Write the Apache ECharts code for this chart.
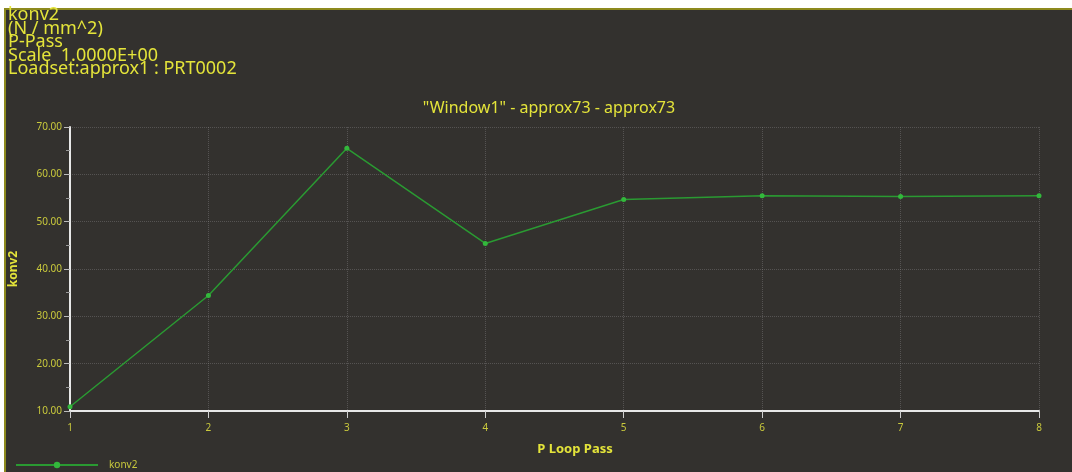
<!DOCTYPE html>
<html>
<head>
<meta charset="utf-8">
<script src="https://cdn.jsdelivr.net/npm/echarts@6/dist/echarts.min.js"></script>
<style>
  html, body { margin: 0; padding: 0; background: #ffffff; }
  #chart { width: 1072px; height: 472px; }
</style>
</head>
<body>
<div id="chart"></div>
<script>
// Loop passes and the konv2 result at each pass
const passes = [1, 2, 3, 4, 5, 6, 7, 8];
const konv2 = [10.9, 34.4, 65.5, 45.4, 54.7, 55.5, 55.3, 55.5];
const yTicks = [10, 20, 30, 40, 50, 60, 70];
const headerLines = [
  'konv2',
  '(N / mm^2)',
  'P-Pass',
  'Scale  1.0000E+00',
  'Loadset:approx1 : PRT0002'
];

const yellow = '#e4e43a';
const tickYellow = '#c9c93c';
const gridGray = 'rgba(150,150,150,0.35)';

const chart = echarts.init(document.getElementById('chart'));

const headerGraphics = headerLines.map((t, i) => ({
  type: 'text',
  left: 8,
  top: 6 + i * 13.5,
  style: { text: t, fill: yellow, font: '18px "Noto Sans", sans-serif' },
  z: 10
}));

chart.setOption({
  backgroundColor: '#ffffff',
  animation: false,
  title: {
    text: '"Window1" - approx73 - approx73',
    left: 544,
    textAlign: 'center',
    top: 95,
    textStyle: { color: yellow, fontSize: 16, fontWeight: 'normal', fontFamily: 'Noto Sans' }
  },
  legend: {
    left: 10,
    top: 455,
    itemWidth: 82,
    itemHeight: 8,
    itemGap: 10,
    textStyle: { color: tickYellow, fontSize: 10, fontFamily: 'Noto Sans', padding: [0, 0, 0, 6] },
    data: ['konv2']
  },
  graphic: [
    {
      type: 'rect',
      shape: { x: 5, y: 9, width: 1080, height: 480 },
      style: { fill: '#33312e', stroke: '#8d8a1e', lineWidth: 2 },
      z: -10
    },
    ...headerGraphics
  ],
  grid: { left: 70, right: 33, top: 127, bottom: 61 },
  xAxis: {
    type: 'value',
    min: 1,
    max: 8,
    interval: 1,
    name: 'P Loop Pass',
    nameLocation: 'middle',
    nameGap: 32,
    nameTextStyle: { color: yellow, fontSize: 13, fontWeight: 'bold', fontFamily: 'Noto Sans', padding: [0, 0, 0, 41] },
    axisLine: { lineStyle: { color: '#e8e8e8', width: 2 } },
    axisTick: { show: true, length: 7, lineStyle: { color: '#cfcfcf', width: 1 } },
    axisLabel: { color: tickYellow, fontSize: 10, margin: 12, fontFamily: 'Noto Sans' },
    splitLine: { show: true, lineStyle: { color: gridGray, type: 'dotted', width: 1 } }
  },
  yAxis: {
    type: 'value',
    min: 10,
    max: 70,
    interval: 10,
    name: 'konv2',
    nameLocation: 'middle',
    nameRotate: 90,
    nameGap: 50,
    nameTextStyle: { color: yellow, fontSize: 12, fontWeight: 'bold', fontFamily: 'Noto Sans' },
    axisLine: { show: true, lineStyle: { color: '#e8e8e8', width: 2 } },
    axisTick: { show: true, length: 6, lineStyle: { color: '#bdbdbd', width: 1 } },
    minorTick: { show: true, splitNumber: 2, length: 4, lineStyle: { color: '#9a9a9a' } },
    axisLabel: {
      color: tickYellow,
      fontSize: 10,
      margin: 8,
      fontFamily: 'Noto Sans',
      formatter: v => v.toFixed(2)
    },
    splitLine: { show: true, lineStyle: { color: gridGray, type: 'dotted', width: 1 } }
  },
  series: [{
    name: 'konv2',
    type: 'line',
    data: passes.map((p, i) => [p, konv2[i]]),
    symbol: 'circle',
    symbolSize: 5,
    lineStyle: { color: '#2a9a32', width: 1.5 },
    itemStyle: { color: '#33b83c' }
  }]
});
</script>
</body>
</html>
